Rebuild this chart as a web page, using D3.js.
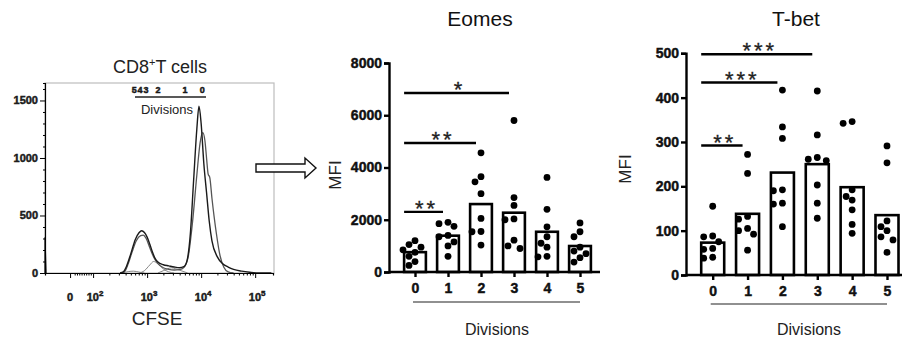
<!DOCTYPE html>
<html lang="en">
<head>
<meta charset="UTF-8">
<title>CFSE divisions, Eomes and T-bet</title>
<script src="https://d3js.org/d3.v7.min.js"></script>
<style>
    body{ margin:0; background:#fff; }
    svg{ font-family:"Liberation Sans", Arial, sans-serif; }
    .bold{ font-weight:700; stroke:#111; stroke-width:0.45px; }
</style>
</head>
<body>
<svg id="fig" width="902" height="341"></svg>
<script>
// ---- data ----
let divisions = ["0", "1", "2", "3", "4", "5"];

// MFI per division, one dot per sample
let eomesMean = [760, 1390, 2600, 2270, 1540, 995];
let eomesDots = [
    [1200, 1050, 950, 850, 750, 600, 400, 250],
    [1900, 1850, 1750, 1400, 1350, 1150, 1000, 600],
    [4560, 3650, 3450, 3000, 2050, 1550, 1540, 1030],
    [5800, 2850, 2550, 2030, 2000, 1220, 1000, 900],
    [3620, 2400, 1730, 1350, 1100, 950, 600, 580],
    [1880, 1540, 1350, 950, 800, 700, 550, 380]
];
let tbetMean = [73, 138, 231, 250, 198, 135];
let tbetDots = [
    [155, 88, 86, 75, 60, 58, 40, 38],
    [272, 229, 132, 126, 105, 100, 92, 56],
    [417, 334, 308, 192, 190, 162, 160, 109],
    [415, 316, 265, 261, 258, 203, 162, 128],
    [346, 342, 192, 177, 169, 147, 114, 94],
    [291, 253, 122, 109, 100, 86, 79, 51]
];
let eomesSig = [
    {from: 0, to: 3, label: "*", level: 6850},
    {from: 0, to: 2, label: "**", level: 4940},
    {from: 0, to: 1, label: "**", level: 2300}
];
let tbetSig = [
    {from: 0, to: 3, label: "***", level: 498},
    {from: 0, to: 2, label: "***", level: 434},
    {from: 0, to: 1, label: "**", level: 292}
];

// CFSE histogram, x in decades (log10 CFSE), y in counts
let histData = [[2.5,0],[2.56,10],[2.62,60],[2.7,170],[2.78,290],[2.85,350],[2.9,368],[2.95,352],[3.0,312],[3.05,250],[3.1,180],[3.15,125],[3.2,95],[3.3,72],[3.4,62],[3.5,52],[3.6,46],[3.68,55],[3.74,110],[3.8,340],[3.86,800],[3.92,1250],[3.96,1450],[4.0,1300],[4.05,950],[4.1,700],[4.15,450],[4.2,280],[4.3,140],[4.4,80],[4.5,52],[4.6,32],[4.75,16],[4.9,6],[5.05,0],[5.3,0]];
let histFit = [[2.5,0],[2.58,10],[2.65,80],[2.72,180],[2.8,280],[2.88,325],[2.93,330],[2.98,302],[3.05,220],[3.12,140],[3.2,82],[3.3,46],[3.4,32],[3.5,26],[3.6,30],[3.68,48],[3.76,140],[3.84,440],[3.92,850],[3.98,1130],[4.03,1220],[4.07,1150],[4.1,1000],[4.13,860],[4.16,830],[4.2,650],[4.28,350],[4.35,150],[4.42,50],[4.5,10],[4.6,0]];
let divPeaks = [
    [[2.55,0],[2.65,12],[2.75,16],[2.85,8],[2.95,0]],
    [[2.85,0],[2.95,20],[3.05,70],[3.12,100],[3.2,80],[3.3,35],[3.4,10],[3.5,0]],
    [[3.2,0],[3.3,20],[3.45,45],[3.6,25],[3.75,0]]
];
let edgeSpike = [[1.11,0],[1.11,310],[1.13,0]];
let divisionLabels = ["0", "1", "2", "3", "4", "5"];
let divisionPos = [4.02, 3.70, 3.20, 2.98, 2.87, 2.76];
let histYTicks = [0, 500, 1000, 1500];
let histXTicks = [{v: 0, base: "0", exp: ""}, {v: 100, base: "10", exp: "2"}, {v: 1000, base: "10", exp: "3"},
                  {v: 10000, base: "10", exp: "4"}, {v: 100000, base: "10", exp: "5"}];

// ---- drawing ----
let svg = d3.select("#fig");

// biexponential-ish display: linear below 100, log above
function decades(v){
    if (v >= 100) return Math.log10(v);
    return 1.574 + v / 100 * (2 - 1.574);
}

// histogram panel
let hx = d3.scaleLinear().domain([1.11, 5.33]).range([45, 273]);
let hy = d3.scaleLinear().domain([0, 1652]).range([273, 83]);

svg.append("rect")
    .attr("x", 45).attr("y", 83).attr("width", 229).attr("height", 190)
    .attr("fill", "none").attr("stroke", "#bdbdbd").attr("stroke-width", 1.2);

let line = d3.line().x(d => hx(d[0])).y(d => hy(d[1])).curve(d3.curveMonotoneX);
divPeaks.forEach(p => {
    svg.append("path").attr("d", line(p)).attr("fill", "none")
        .attr("stroke", "#777").attr("stroke-width", 0.9);
});
svg.append("path").attr("d", line(histFit)).attr("fill", "none")
    .attr("stroke", "#555").attr("stroke-width", 1.3);
svg.append("path").attr("d", line(histData)).attr("fill", "none")
    .attr("stroke", "#1a1a1a").attr("stroke-width", 1.4);
svg.append("path").attr("d", d3.line().x(d => hx(d[0])).y(d => hy(d[1]))(edgeSpike))
    .attr("fill", "none").attr("stroke", "#1a1a1a").attr("stroke-width", 1.2);

// histogram axes
let hyAxis = svg.append("g").attr("transform", "translate(45,0)")
    .call(d3.axisLeft(hy).tickValues(d3.range(0, 1700, 100)).tickSize(2).tickFormat(""));
hyAxis.selectAll(".tick line").filter(d => d % 500 === 0).attr("x2", -5);
hyAxis.select(".domain").attr("stroke-width", 1.2);
svg.selectAll(".hyl").data(histYTicks).join("text")
    .attr("class", "bold")
    .attr("x", 38).attr("y", d => hy(d) + 4)
    .attr("text-anchor", "end").attr("font-size", 11)
    .attr("fill", "#222").text(d => d);

let minor = [];
for (let e = 2; e < 5; e++) for (let m = 2; m < 10; m++) minor.push(Math.log10(m * Math.pow(10, e)));
for (let m = 2; m < 10; m++) minor.push(decades(m * 10));
let hxAxis = svg.append("g").attr("transform", "translate(0,273)")
    .call(d3.axisBottom(hx).tickValues(minor.concat(histXTicks.map(t => decades(t.v)))).tickSize(2.5).tickFormat(""));
hxAxis.selectAll(".tick line").filter(d => histXTicks.some(t => Math.abs(decades(t.v) - d) < 1e-9)).attr("y2", 5);
hxAxis.select(".domain").attr("stroke-width", 1.2);
let xl = svg.selectAll(".hxl").data(histXTicks).join("text")
    .attr("class", "bold")
    .attr("x", d => hx(decades(d.v)) + (d.exp ? 2 : 0)).attr("y", 301)
    .attr("text-anchor", "middle").attr("font-size", 11).attr("fill", "#222");
xl.append("tspan").text(d => d.base);
xl.append("tspan").attr("dy", -5).attr("font-size", 8).text(d => d.exp);

svg.append("text").attr("x", 160).attr("y", 73).attr("text-anchor", "middle")
    .attr("font-size", 18).attr("fill", "#222")
    .call(t => {
        t.append("tspan").text("CD8");
        t.append("tspan").attr("dy", -7).attr("font-size", 11).text("+");
        t.append("tspan").attr("dy", 7).text("T cells");
    });
svg.append("text").attr("x", 157).attr("y", 325).attr("text-anchor", "middle")
    .attr("font-size", 19).attr("fill", "#222").text("CFSE");

svg.selectAll(".divl").data(divisionLabels).join("text")
    .attr("class", "bold")
    .attr("x", (d, i) => hx(divisionPos[i])).attr("y", 93)
    .attr("text-anchor", "middle").attr("font-size", 9)
    .attr("fill", "#222").text(d => d);
svg.append("line").attr("x1", 135).attr("x2", 206).attr("y1", 97).attr("y2", 97)
    .attr("stroke", "#222").attr("stroke-width", 1.6);
svg.append("text").attr("x", 167).attr("y", 114).attr("text-anchor", "middle")
    .attr("font-size", 13).attr("fill", "#222").text("Divisions");

// hollow arrow
svg.append("path")
    .attr("d", d3.line()([[256,164],[305,164],[305,158],[316,168],[305,178],[305,172],[256,172]]) + "Z")
    .attr("fill", "#fff").attr("stroke", "#111").attr("stroke-width", 1.4);

// bar panels
function barPanel(cfg){
    let x = d3.scalePoint().domain(divisions).range([cfg.c0, cfg.c5]);
    let y = d3.scaleLinear().domain([0, cfg.max]).range([cfg.y0, cfg.ytop]);
    let bw = x.step() * 0.66;
    let g = svg.append("g");

    let ya = g.append("g").attr("transform", `translate(${cfg.xl},0)`)
        .call(d3.axisLeft(y).tickValues(d3.range(0, cfg.max + 1, cfg.step))
            .tickFormat(d3.format("d")).tickSize(5).tickPadding(2));
    ya.selectAll("line,path").attr("stroke-width", 2.4);
    ya.selectAll("text").attr("class", "bold").attr("fill", "#111")
        .style("font-size", "14px")
        .style("font-family", "'Liberation Sans', Arial, sans-serif");

    g.selectAll(".bar").data(cfg.mean).join("rect")
        .attr("x", (d, i) => x(divisions[i]) - bw / 2).attr("width", bw)
        .attr("y", d => y(d)).attr("height", d => cfg.y0 - y(d))
        .attr("fill", "#fff").attr("stroke", "#000").attr("stroke-width", 2.6);

    let xa = g.append("g").attr("transform", `translate(0,${cfg.y0})`)
        .call(d3.axisBottom(x).tickSize(5).tickPadding(6).tickSizeOuter(0));
    xa.select(".domain").attr("d", `M${cfg.xl},0H${cfg.xr}`);
    xa.selectAll("line,path").attr("stroke-width", 2.4);
    xa.selectAll("text").attr("class", "bold").attr("fill", "#111")
        .style("font-size", "14px")
        .style("font-family", "'Liberation Sans', Arial, sans-serif");

    // dots, dodged sideways so they do not overlap
    let r = 3.4;
    let offsets = [0, -6, 6, -9, 9, -3, 3, -12, 12];
    cfg.dots.forEach((vals, i) => {
        let placed = [];
        vals.forEach(v => {
            let py = y(v), dx = 0;
            for (let o of offsets) {
                if (placed.every(p => Math.hypot(p[0] - o, p[1] - py) >= 2 * r)) { dx = o; break; }
            }
            placed.push([dx, py]);
        });
        g.selectAll(".dot" + i).data(placed).join("circle")
            .attr("cx", d => x(divisions[i]) + d[0]).attr("cy", d => d[1]).attr("r", r).attr("fill", "#000");
    });

    // significance bars
    cfg.sig.forEach(s => {
        let x1 = x(divisions[s.from]) - bw / 2, x2 = x(divisions[s.to]) - 5;
        g.append("line").attr("x1", x1).attr("x2", x2).attr("y1", y(s.level)).attr("y2", y(s.level))
            .attr("stroke", "#000").attr("stroke-width", 2.4);
        g.append("text").attr("x", (x1 + x2) / 2 + 3).attr("y", y(s.level) + 4)
            .attr("text-anchor", "middle").attr("font-size", 22).attr("letter-spacing", 3)
            .attr("fill", "#222").attr("stroke", "#222").attr("stroke-width", 0.3).text(s.label);
    });

    g.append("line").attr("x1", x("0") - 2).attr("x2", x("5")).attr("y1", cfg.divY).attr("y2", cfg.divY)
        .attr("stroke", "#222").attr("stroke-width", 1.2);
    g.append("text").attr("x", cfg.divTextX).attr("y", 335).attr("text-anchor", "middle")
        .attr("font-size", 16).attr("fill", "#222").text("Divisions");
    g.append("text").attr("transform", `translate(${cfg.mfiX + 6},${cfg.mfiY}) rotate(-90)`)
        .attr("text-anchor", "middle").attr("font-size", 17).attr("fill", "#222").text("MFI");
    g.append("text").attr("x", cfg.titleX).attr("y", 26).attr("text-anchor", "middle")
        .attr("font-size", 21).attr("fill", "#111").text(cfg.title);
}

barPanel({title: "Eomes", mean: eomesMean, dots: eomesDots, sig: eomesSig, max: 8000, step: 2000,
    xl: 389, xr: 600, y0: 272, ytop: 63, c0: 415, c5: 580,
    mfiX: 335, mfiY: 175, divY: 302, divTextX: 497, titleX: 480});
barPanel({title: "T-bet", mean: tbetMean, dots: tbetDots, sig: tbetSig, max: 500, step: 100,
    xl: 686, xr: 902, y0: 275, ytop: 53.3, c0: 712.7, c5: 887,
    mfiX: 625, mfiY: 169, divY: 304, divTextX: 809, titleX: 796});
</script>
</body>
</html>
